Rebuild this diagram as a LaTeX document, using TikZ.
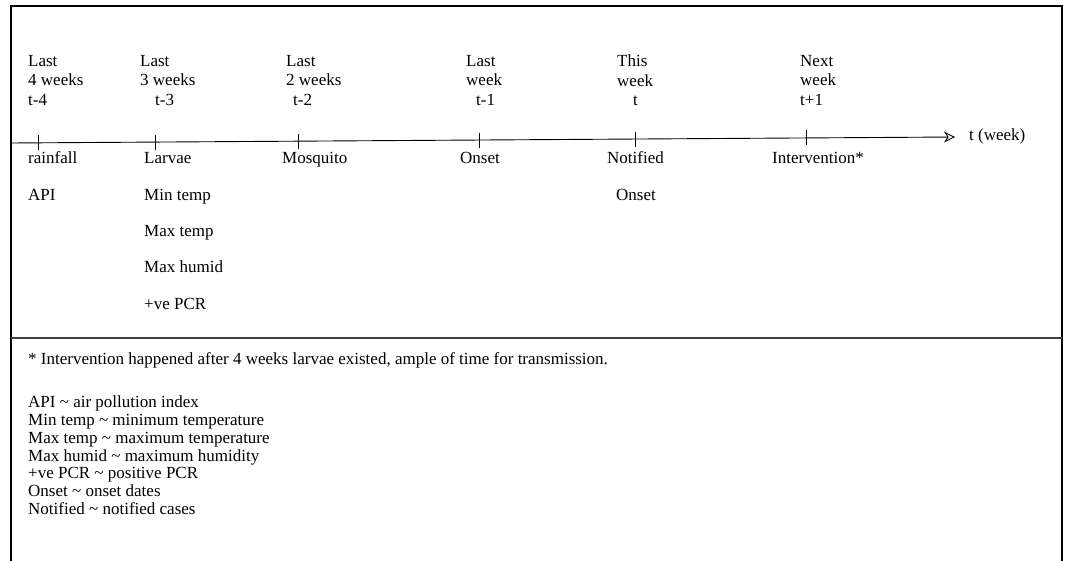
\documentclass[tikz,border=0pt]{standalone}
\usepackage{fontspec}
\setmainfont{Liberation Serif}
\usetikzlibrary{arrows.meta,calc}
\tikzset{
  txt/.style={inner sep=0pt, font=\fontsize{17}{19.5}\selectfont},
  toplbl/.style={txt, anchor=north west, align=left},
  botlbl/.style={txt, anchor=base west},
  tickmark/.style={line width=0.8pt},
  frame/.style={line width=1.4pt},
  axisline/.style={line width=0.9pt, -{Stealth[open,length=11pt,width=11pt,inset=3.5pt]}}
}
\begin{document}
\begin{tikzpicture}[x=1pt,y=-1pt]
\useasboundingbox (0,0) rectangle (1066,561);
% frame
\draw[frame] (11,561) -- (11,6) -- (1062,6);
\draw[line width=2.6pt] (1062,5) -- (1062,561);
\draw[line width=1.4pt, black!75] (11,338) -- (1062,338);
% axis
\coordinate (A) at (11,143);
\coordinate (B) at (955,137);
\draw[axisline] (A) -- (B);
\foreach \n/\t in {t4/0.0286, t3/0.1525, t2/0.304, t1/0.4958, t0/0.661, tp/0.843}{
  \coordinate (\n) at ($(A)!\t!(B)$);
  \draw[tickmark] ([yshift=7.5pt]\n) -- ([yshift=-7.5pt]\n);
}
\node[botlbl] (tw) at (969,141) {t (week)};
% top labels
\node[toplbl] (L4) at (28,55) {Last\\4 weeks\\t-4};
\node[toplbl] (L3) at (140,55) {Last\\3 weeks\\\hspace*{15pt}t-3};
\node[toplbl] (L2) at (286,55) {Last\\2 weeks\\\hspace*{7pt}t-2};
\node[toplbl] (L1) at (466,55) {Last\\week\\\hspace*{10pt}t-1};
\node[toplbl] (L0) at (617,55) {This\\week\\\hspace*{16pt}t};
\node[toplbl] (LP) at (800,55) {Next\\week\\t+1};
% below-axis labels
\node[botlbl] (rain) at (28,164) {rainfall};
\node[botlbl] (api) at (28,201) {API};
\node[botlbl] (larv) at (144,164) {Larvae};
\node[botlbl] (mint) at (144,201) {Min temp};
\node[botlbl] (maxt) at (144,237) {Max temp};
\node[botlbl] (maxh) at (144,273) {Max humid};
\node[botlbl] (pcr) at (144,310) {+ve PCR};
\node[botlbl] (mosq) at (282,164) {Mosquito};
\node[botlbl] (ons1) at (460,164) {Onset};
\node[botlbl] (noti) at (607,164) {Notified};
\node[botlbl] (ons2) at (616,201) {Onset};
\node[botlbl] (intv) at (772,164) {Intervention*};
% notes
\node[botlbl] (note) at (28,365) {* Intervention happened after 4 weeks larvae existed, ample of time for transmission.};
\node[txt, anchor=north west, align=left, font=\fontsize{17}{17.7}\selectfont] (legend) at (28,396)
 {API \textasciitilde{} air pollution index\\
  Min temp \textasciitilde{} minimum temperature\\
  Max temp \textasciitilde{} maximum temperature\\
  Max humid \textasciitilde{} maximum humidity\\
  +ve PCR \textasciitilde{} positive PCR\\
  Onset \textasciitilde{} onset dates\\
  Notified \textasciitilde{} notified cases};
\end{tikzpicture}
\end{document}
